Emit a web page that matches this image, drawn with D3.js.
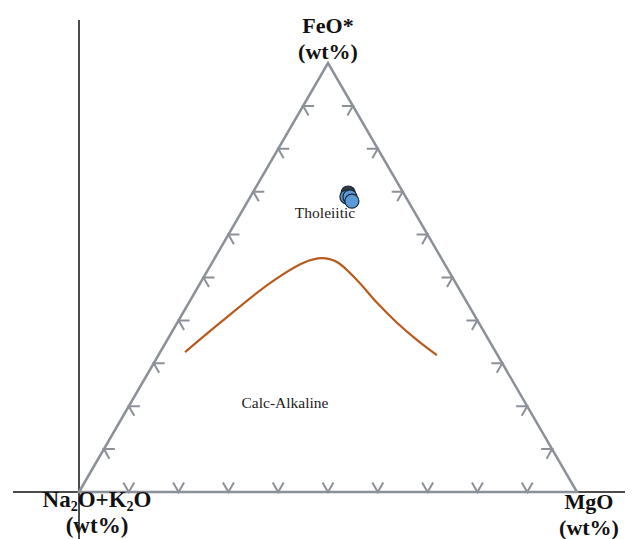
<!DOCTYPE html>
<html>
<head>
<meta charset="utf-8">
<script src="https://cdn.jsdelivr.net/npm/d3@7"></script>
<style>
  html, body { margin: 0; padding: 0; background: #fff; }
  svg { display: block; }
</style>
</head>
<body>
<div id="chart"></div>
<script>
// Sample points (wt%): FeO*, MgO, Na2O+K2O
const sampleFeO = [69.7, 68.8, 68.8, 67.8];
const sampleMgO = [19.2, 19.4, 20.0, 20.9];
const sampleAlk = [11.1, 11.8, 11.2, 11.3];

// Tholeiitic / calc-alkaline boundary (Irvine & Baragar style), ternary fractions
const boundaryFeO = [0.326, 0.394, 0.487, 0.534, 0.545, 0.536, 0.494, 0.441, 0.394, 0.354, 0.319];
const boundaryMgO = [0.050, 0.086, 0.140, 0.183, 0.215, 0.250, 0.311, 0.378, 0.442, 0.502, 0.559];

const tickSteps = [0.1, 0.2, 0.3, 0.4, 0.5, 0.6, 0.7, 0.8, 0.9];

const svgWidth = 632, svgHeight = 539;
const svg = d3.select("#chart").append("svg")
    .attr("width", svgWidth)
    .attr("height", svgHeight)
    .attr("font-family", "'Liberation Serif', 'DejaVu Serif', serif");

// horizontal position runs with MgO + FeO/2, vertical with FeO
const xScale = d3.scaleLinear().domain([0, 1]).range([79, 577]);
const yScale = d3.scaleLinear().domain([0, 1]).range([492, 63]);

// turn (feo, mgo) fractions into pixel coordinates
function project(f, m) {
    return [xScale(m + f / 2), yScale(f)];
}

// black frame lines
svg.append("line")
    .attr("x1", xScale(0)).attr("x2", xScale(0))
    .attr("y1", 20).attr("y2", svgHeight)
    .attr("stroke", "#111").attr("stroke-width", 1.5);
svg.append("line")
    .attr("x1", 13).attr("x2", 625)
    .attr("y1", yScale(0)).attr("y2", yScale(0))
    .attr("stroke", "#111").attr("stroke-width", 1.5);

// triangle
const corners = [project(0, 0), project(1, 0), project(0, 1)];
svg.append("path")
    .attr("d", "M" + corners.map(c => c.join(",")).join("L") + "Z")
    .attr("fill", "none")
    .attr("stroke", "#8b9099")
    .attr("stroke-width", 2.5)
    .attr("stroke-linejoin", "miter");

// ticks: two short strokes from each tick point, pointing inward
const L = 11, h = L * Math.sqrt(3) / 2;
const tickGroup = svg.append("g")
    .attr("stroke", "#8b9099")
    .attr("stroke-width", 2)
    .attr("fill", "none");

tickSteps.forEach(t => {
    // left edge (MgO = 0)
    let p = project(t, 0);
    tickGroup.append("path")
        .attr("d", `M${p[0] + L},${p[1]}L${p[0]},${p[1]}L${p[0] + L / 2},${p[1] + h}`);
    // right edge (alkali = 0)
    p = project(t, 1 - t);
    tickGroup.append("path")
        .attr("d", `M${p[0] - L},${p[1]}L${p[0]},${p[1]}L${p[0] - L / 2},${p[1] + h}`);
    // bottom edge (FeO = 0)
    p = project(0, t);
    tickGroup.append("path")
        .attr("d", `M${p[0] - L / 2},${p[1] - h}L${p[0]},${p[1]}L${p[0] + L / 2},${p[1] - h}`);
});

// boundary curve
const boundary = boundaryFeO.map((f, i) => project(f, boundaryMgO[i]));
svg.append("path")
    .attr("d", d3.line().curve(d3.curveCatmullRom)(boundary))
    .attr("fill", "none")
    .attr("stroke", "#b85a1c")
    .attr("stroke-width", 2.2);

// samples
const samples = sampleFeO.map((f, i) => {
    const tot = f + sampleMgO[i] + sampleAlk[i];
    return project(f / tot, sampleMgO[i] / tot);
});
svg.selectAll("circle.sample")
    .data(samples)
    .join("circle")
    .attr("class", "sample")
    .attr("cx", d => d[0])
    .attr("cy", d => d[1])
    .attr("r", 7)
    .attr("fill", (d, i) => i === 0 ? "#2f3a44" : "#5b9bd5")
    .attr("stroke", "#1b2633")
    .attr("stroke-width", 1.2);

// field labels
svg.append("text")
    .attr("x", 325).attr("y", 218)
    .attr("text-anchor", "middle")
    .attr("font-size", 15.5)
    .attr("fill", "#222")
    .text("Tholeiitic");
svg.append("text")
    .attr("x", 285).attr("y", 408)
    .attr("text-anchor", "middle")
    .attr("font-size", 15.5)
    .attr("fill", "#222")
    .text("Calc-Alkaline");

// apex labels
function apexLabel(x, y, size, first) {
    const t = svg.append("text")
        .attr("x", x).attr("y", y)
        .attr("text-anchor", "middle")
        .attr("font-size", size)
        .attr("font-weight", "bold")
        .attr("fill", "#111");
    first(t);
    svg.append("text")
        .attr("x", x).attr("y", y + 26)
        .attr("text-anchor", "middle")
        .attr("font-size", size)
        .attr("font-weight", "bold")
        .attr("fill", "#111")
        .text("(wt%)");
}

apexLabel(328, 33, 22, t => t.text("FeO*"));
apexLabel(589, 509, 22, t => t.text("MgO"));
apexLabel(97, 507, 23, t => {
    t.append("tspan").text("Na");
    t.append("tspan").attr("font-size", 14).attr("dy", 4).text("2");
    t.append("tspan").attr("dy", -4).text("O+K");
    t.append("tspan").attr("font-size", 14).attr("dy", 4).text("2");
    t.append("tspan").attr("dy", -4).text("O");
});
</script>
</body>
</html>
